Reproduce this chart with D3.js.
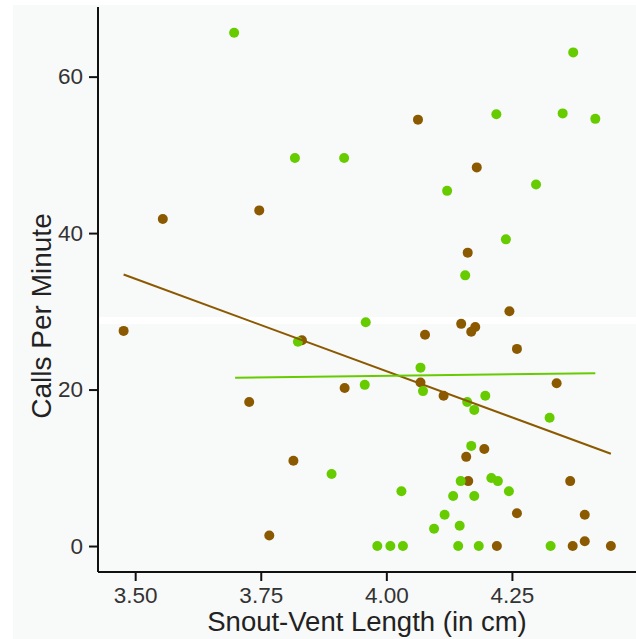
<!DOCTYPE html>
<html>
<head>
<meta charset="utf-8">
<script src="https://cdn.jsdelivr.net/npm/d3@7"></script>
<style>
  html, body { margin: 0; padding: 0; background: #fff; }
  svg { display: block; }
</style>
</head>
<body>
<div id="chart"></div>
<script>
// snout-vent length (cm) and calls per minute, per group
const greenLength = [3.697, 3.818, 3.916, 4.372, 4.219, 4.351, 4.416, 4.121, 4.298, 4.238,
  4.157, 3.959, 3.824, 3.957, 4.068, 4.073, 4.161, 4.175, 4.197, 4.325,
  4.169, 3.891, 4.148, 4.209, 4.222, 4.244, 4.030, 4.133, 4.175, 4.116,
  4.095, 4.146, 3.982, 4.008, 4.033, 4.143, 4.184, 4.327];
const greenCalls = [65.6, 49.6, 49.6, 63.1, 55.2, 55.3, 54.6, 45.4, 46.2, 39.2,
  34.6, 28.6, 26.1, 20.6, 22.8, 19.8, 18.4, 17.4, 19.2, 16.4,
  12.8, 9.2, 8.3, 8.7, 8.3, 7.0, 7.0, 6.4, 6.4, 4.0,
  2.2, 2.6, 0, 0, 0, 0, 0, 0];

const brownLength = [3.477, 3.555, 3.747, 4.063, 4.180, 4.162, 4.245, 4.077, 4.149, 4.169,
  4.177, 4.260, 3.832, 3.917, 4.068, 4.114, 4.339, 3.727, 3.815, 3.767,
  4.195, 4.159, 4.163, 4.366, 4.260, 4.395, 4.395, 4.220, 4.371, 4.447];
const brownCalls = [27.5, 41.8, 42.9, 54.5, 48.4, 37.5, 30.0, 27.0, 28.4, 27.4,
  28.0, 25.2, 26.3, 20.2, 20.9, 19.2, 20.8, 18.4, 10.9, 1.35,
  12.4, 11.4, 8.3, 8.3, 4.2, 4.0, 0.6, 0, 0, 0];

// fitted lines (start and end)
const greenFitX = [3.699, 4.416];
const greenFitY = [21.5, 22.1];
const brownFitX = [3.477, 4.447];
const brownFitY = [34.7, 11.8];

const xTicks = [3.5, 3.75, 4.0, 4.25];
const yTicks = [0, 20, 40, 60];

const width = 636;
const height = 639;
const margin = { top: 7, right: 0, bottom: 67, left: 98 };
const innerWidth = width - margin.left - margin.right;
const innerHeight = height - margin.top - margin.bottom;

const svg = d3.select("#chart")
  .append("svg")
  .attr("width", width)
  .attr("height", height);

svg.append("rect")
  .attr("x", 13)
  .attr("y", 5)
  .attr("width", width - 13)
  .attr("height", height - 5)
  .attr("fill", "#f8f9f9");

svg.append("rect")
  .attr("x", 98)
  .attr("y", 317)
  .attr("width", width - 98)
  .attr("height", 7)
  .attr("fill", "#ffffff");

const chart = svg.append("g")
  .attr("transform", `translate(${margin.left}, ${margin.top})`);

const x = d3.scaleLinear()
  .domain([3.426, 4.497])
  .range([0, innerWidth]);

const y = d3.scaleLinear()
  .domain([-3.32, 68.9])
  .range([innerHeight, 0]);

const font = "'Liberation Sans', Arial, sans-serif";

chart.append("g")
  .call(d3.axisLeft(y).tickValues(yTicks).tickFormat(d3.format("d")).tickSize(9).tickPadding(6))
  .call((g) => g.select(".domain").attr("stroke", "#111").attr("stroke-width", 2).attr("d", `M0,0V${innerHeight}`))
  .call((g) => g.selectAll(".tick line").attr("stroke", "#111").attr("stroke-width", 2))
  .call((g) => g.selectAll("text").attr("fill", "#333").attr("font-size", 22.5).attr("font-family", font));

chart.append("g")
  .attr("transform", `translate(0, ${innerHeight})`)
  .call(d3.axisBottom(x).tickValues(xTicks).tickFormat(d3.format(".2f")).tickSize(9).tickPadding(6))
  .call((g) => g.select(".domain").attr("stroke", "#111").attr("stroke-width", 2).attr("d", `M0,0H${innerWidth}`))
  .call((g) => g.selectAll(".tick line").attr("stroke", "#111").attr("stroke-width", 2))
  .call((g) => g.selectAll("text").attr("fill", "#333").attr("font-size", 22.5).attr("font-family", font));

const groups = [
  { length: brownLength, calls: brownCalls, color: "#8b5a00" },
  { length: greenLength, calls: greenCalls, color: "#66cc00" },
];

groups.forEach((group) => {
  chart.append("g")
    .selectAll("circle")
    .data(group.length.map((len, i) => ({ len, calls: group.calls[i] })))
    .enter()
    .append("circle")
    .attr("cx", (d) => x(d.len))
    .attr("cy", (d) => y(d.calls))
    .attr("r", 5)
    .attr("fill", group.color);
});

const line = d3.line()
  .x((d) => x(d[0]))
  .y((d) => y(d[1]));

chart.append("path")
  .datum(brownFitX.map((v, i) => [v, brownFitY[i]]))
  .attr("d", line)
  .attr("fill", "none")
  .attr("stroke", "#8b5a00")
  .attr("stroke-width", 2);

chart.append("path")
  .datum(greenFitX.map((v, i) => [v, greenFitY[i]]))
  .attr("d", line)
  .attr("fill", "none")
  .attr("stroke", "#66cc00")
  .attr("stroke-width", 2);

svg.append("text")
  .attr("x", 367)
  .attr("y", 631)
  .attr("text-anchor", "middle")
  .attr("font-size", 27.5)
  .attr("font-family", font)
  .attr("fill", "#222")
  .text("Snout-Vent Length (in cm)");

svg.append("text")
  .attr("transform", "translate(51, 316) rotate(-90)")
  .attr("text-anchor", "middle")
  .attr("font-size", 28)
  .attr("font-family", font)
  .attr("fill", "#222")
  .text("Calls Per Minute");
</script>
</body>
</html>
